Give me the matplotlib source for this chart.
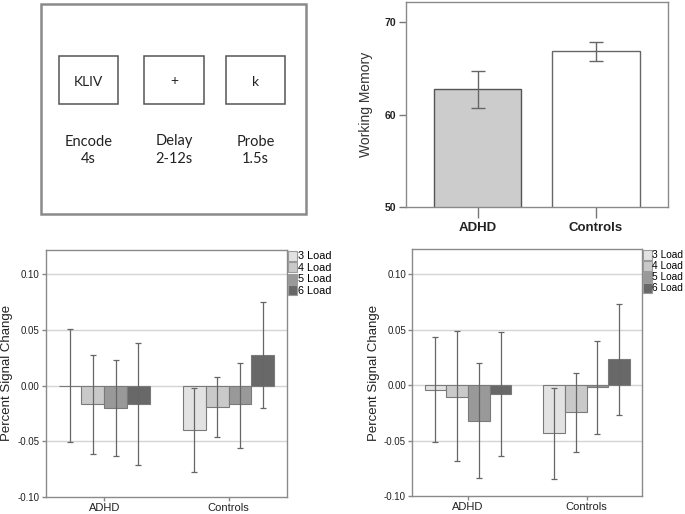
import matplotlib
matplotlib.use("Agg")
import matplotlib.pyplot as plt
from matplotlib.patches import Rectangle
import numpy as np

plt.rcParams['font.family'] = ['Liberation Sans', 'DejaVu Sans']

# ---------------- data ----------------
groups = ["ADHD", "Controls"]
loads = ["3 Load", "4 Load", "5 Load", "6 Load"]
load_colors = ["#e2e2e2", "#c9c9c9", "#999999", "#686868"]

# working memory panel
wm_mean = [62.78, 66.87]
wm_low = [60.73, 65.85]
wm_high = [64.77, 67.88]
wm_colors = ["#cccccc", "#ffffff"]

# percent signal change, left panel (rows = load, cols = group)
psc1_mean = [[0.000, -0.0404], [-0.0168, -0.0192], [-0.0204, -0.0168], [-0.0168, 0.0272]]
psc1_low = [[-0.0509, -0.0781], [-0.0620, -0.0464], [-0.0635, -0.0560], [-0.0719, -0.0198]]
psc1_high = [[0.0509, -0.0021], [0.0275, 0.0078], [0.0234, 0.0207], [0.0383, 0.0749]]

# percent signal change, right panel
psc2_mean = [[-0.0042, -0.0434], [-0.0105, -0.0246], [-0.0320, -0.0021], [-0.0081, 0.0234]]
psc2_low = [[-0.0512, -0.0844], [-0.0686, -0.0599], [-0.0835, -0.0437], [-0.0635, -0.0269]]
psc2_high = [[0.0437, -0.0030], [0.0488, 0.0108], [0.0204, 0.0401], [0.0482, 0.0734]]

psc_ticks = [-0.10, -0.05, 0.00, 0.05, 0.10]
psc_ticklabels = ["-0.10", "-0.05", "0.00", "0.05", "0.10"]
wm_ticks = [50, 60, 70]

# schematic texts
stim_texts = ["KLIV", "+", "k"]
phase_names = ["Encode", "Delay", "Probe"]
phase_durs = ["4s", "2-12s", "1.5s"]

W, H = 685, 514
fig = plt.figure(figsize=(6.85, 5.14), dpi=100)
fig.patch.set_facecolor("white")

def fx(px):
    return px / W

def fy(py):
    return 1 - py / H

# ---------------- panel A: schematic ----------------
axA = fig.add_axes([0, 0, 1, 1])
axA.set_xlim(0, W)
axA.set_ylim(H, 0)
axA.axis("off")
axA.patch.set_alpha(0)
axA.add_patch(Rectangle((41, 3.5), 265, 210, fill=False, edgecolor="#8a8a8a", lw=1.8))
box_x = [59, 144.5, 226]
for bx, st, pn, pd in zip(box_x, stim_texts, phase_names, phase_durs):
    axA.add_patch(Rectangle((bx, 56), 59.5, 48, fill=False, edgecolor="#555555", lw=1.1))
    cx = bx + 29.75
    axA.text(cx, 81.5, st, ha="center", va="center", fontsize=10, family=["Lato", "DejaVu Sans"], color="#222222")
    axA.text(cx, 141.5, pn, ha="center", va="center", fontsize=10.5, family=["Lato", "DejaVu Sans"], color="#222222")
    axA.text(cx, 159, pd, ha="center", va="center", fontsize=10.5, family=["Lato", "DejaVu Sans"], color="#222222")

# ---------------- panel B: working memory ----------------
axB = fig.add_axes([fx(405.7), fy(207), fx(668) - fx(405.7), fy(2) - fy(207)])
xb = np.arange(len(groups))
axB.bar(xb, wm_mean, width=0.74, color=wm_colors, edgecolor=["#555555", "#666666"], linewidth=1.0, zorder=2)
yerr = [np.array(wm_mean) - np.array(wm_low), np.array(wm_high) - np.array(wm_mean)]
axB.errorbar(xb, wm_mean, yerr=yerr, fmt="none", ecolor="#666666", elinewidth=1.0, capsize=5.3, capthick=1.0, zorder=3)
axB.set_xlim(-0.61, 1.61)
axB.set_ylim(50, 72.2)
axB.set_yticks(wm_ticks)
axB.set_yticklabels([str(t) for t in wm_ticks], fontsize=7.5, fontweight="bold", color="#222222")
axB.set_xticks(xb)
axB.set_xticklabels(groups, fontsize=9.5, fontweight="bold", color="#222222")
axB.set_ylabel("Working Memory", fontsize=10, color="#333333", labelpad=8)
axB.tick_params(axis="y", direction="out", length=5, width=1, color="#777777", pad=2)
axB.tick_params(axis="x", direction="out", length=8, width=1, color="#777777", pad=3)
for s in axB.spines.values():
    s.set_color("#8a8a8a")
    s.set_linewidth(1.0)

# ---------------- panels C and D ----------------
def psc_panel(rect, mean, low, high, legend_size):
    ax = fig.add_axes(rect)
    xg = np.arange(len(groups))
    bw = 0.183
    for i, (lab, col) in enumerate(zip(loads, load_colors)):
        xpos = xg + (i - 1.5) * bw
        m = np.array(mean[i])
        lo = np.array(low[i])
        hi = np.array(high[i])
        ax.bar(xpos, m, width=bw, color=col, edgecolor="#7a7a7a", linewidth=0.8, label=lab, zorder=2)
        ax.errorbar(xpos, m, yerr=[m - lo, hi - m], fmt="none", ecolor="#666666", elinewidth=0.9,
                    capsize=2.2, capthick=0.9, zorder=3)
    for t in psc_ticks[1:]:
        ax.axhline(t, color="#d4d4d4", lw=1.0, zorder=1)
    ax.set_xlim(-0.47, 1.465)
    ax.set_ylim(-0.10, 0.1225)
    ax.set_yticks(psc_ticks)
    ax.set_yticklabels(psc_ticklabels, fontsize=7, color="#222222")
    ax.set_xticks(xg)
    ax.set_xticklabels(groups, fontsize=8, color="#222222")
    ax.set_ylabel("Percent Signal Change", fontsize=9.5, color="#222222", labelpad=3)
    ax.tick_params(axis="y", direction="out", length=3, width=1, color="#888888", pad=1.5)
    ax.tick_params(axis="x", direction="out", length=3, width=1, color="#888888", pad=1.5)
    for s in ax.spines.values():
        s.set_color("#8a8a8a")
        s.set_linewidth(1.0)
    leg = ax.legend(loc="upper left", bbox_to_anchor=(1.0, 1.0), borderaxespad=0.1, borderpad=0,
                    frameon=False, fontsize=legend_size, handlelength=0.9, handleheight=1.05,
                    handletextpad=0.05, labelspacing=0.08)
    for h in leg.legend_handles:
        h.set_edgecolor("#9a9a9a")
    return ax

psc_panel([fx(45.7), fy(496.7), fx(286.5) - fx(45.7), fy(249.5) - fy(496.7)], psc1_mean, psc1_low, psc1_high, 7.8)
psc_panel([fx(412.3), fy(496), fx(641.7) - fx(412.3), fy(249.3) - fy(496)], psc2_mean, psc2_low, psc2_high, 7.3)

fig.savefig("out.png", dpi=100, facecolor="white")
